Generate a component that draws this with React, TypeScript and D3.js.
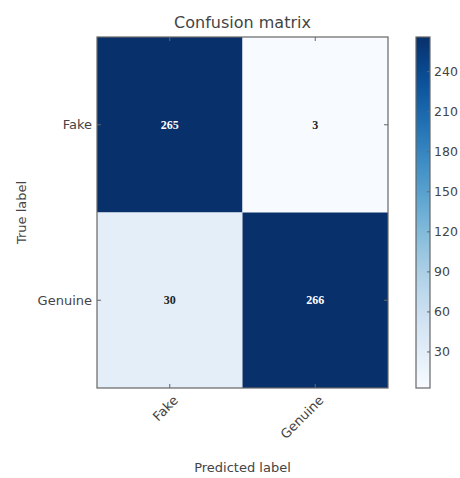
import React from "react";
import * as d3 from "d3";

const classes = ["Fake", "Genuine"];
const matrix = [
  [265, 3],
  [30, 266],
];
const cbTicks = [30, 60, 90, 120, 150, 180, 210, 240];
const title = "Confusion matrix";
const xLabel = "Predicted label";
const yLabel = "True label";

const W = 460;
const H = 478;
const plot = { left: 97, top: 37, right: 388, bottom: 388 };
const cb = { left: 416, right: 430, top: 37, bottom: 388 };
const font = "'DejaVu Sans', sans-serif";
const textColor = "#444";
const frameColor = "#666";

export default function App() {
  const flat = matrix.flat();
  const vmin = d3.min(flat) as number;
  const vmax = d3.max(flat) as number;
  const color = d3.scaleSequential(d3.interpolateBlues).domain([vmin, vmax]);
  const x = d3.scaleBand<string>().domain(classes).range([plot.left, plot.right]);
  const y = d3.scaleBand<string>().domain(classes).range([plot.top, plot.bottom]);
  const cbScale = d3.scaleLinear().domain([vmin, vmax]).range([cb.bottom, cb.top]);
  const thresh = (vmin + vmax) / 2;
  const gradStops = d3.range(0, 1.0001, 0.05);

  const cells: React.ReactNode[] = [];
  matrix.forEach((row, i) => {
    row.forEach((v, j) => {
      const cx = x(classes[j])!;
      const cy = y(classes[i])!;
      cells.push(
        <g key={`${i}-${j}`}>
          <rect x={cx} y={cy} width={x.bandwidth()} height={y.bandwidth()} fill={color(v)} />
          <text
            x={cx + x.bandwidth() / 2}
            y={cy + y.bandwidth() / 2}
            textAnchor="middle"
            dominantBaseline="central"
            fontFamily="'Liberation Serif', serif"
            fontWeight="bold"
            fontSize={12}
            fill={v > thresh ? "#ffffff" : "#222"}
          >
            {v}
          </text>
        </g>
      );
    });
  });

  const tl = 4;
  return (
    <svg width={W} height={H} style={{ position: "absolute", left: 0, top: 0, background: "#fff" }}>
      <rect x={0} y={0} width={W} height={H} fill="#fff" />
      <text x={(plot.left + plot.right) / 2} y={28} textAnchor="middle" fontFamily={font} fontSize={16} fill={textColor}>
        {title}
      </text>
      {cells}
      {classes.map((c) => {
        const cx = x(c)! + x.bandwidth() / 2;
        const cy = y(c)! + y.bandwidth() / 2;
        return (
          <g key={`t-${c}`} stroke={frameColor} strokeWidth={1}>
            <line x1={cx} x2={cx} y1={plot.bottom} y2={plot.bottom - tl} />
            <line x1={cx} x2={cx} y1={plot.top} y2={plot.top + tl} />
            <line x1={plot.left} x2={plot.left + tl} y1={cy} y2={cy} />
            <line x1={plot.right} x2={plot.right - tl} y1={cy} y2={cy} />
          </g>
        );
      })}
      <rect
        x={plot.left}
        y={plot.top}
        width={plot.right - plot.left}
        height={plot.bottom - plot.top}
        fill="none"
        stroke={frameColor}
        strokeWidth={1.2}
      />
      {classes.map((c) => (
        <text
          key={`yl-${c}`}
          x={plot.left - 5}
          y={y(c)! + y.bandwidth() / 2}
          textAnchor="end"
          dominantBaseline="central"
          fontFamily={font}
          fontSize={13}
          fill={textColor}
        >
          {c}
        </text>
      ))}
      {classes.map((c) => {
        const cx = x(c)! + x.bandwidth() / 2;
        return (
          <text
            key={`xl-${c}`}
            transform={`translate(${cx + 6},${plot.bottom + 10}) rotate(-45)`}
            textAnchor="end"
            dominantBaseline="central"
            fontFamily={font}
            fontSize={13}
            fill={textColor}
          >
            {c}
          </text>
        );
      })}
      <text
        x={(plot.left + plot.right) / 2}
        y={472}
        textAnchor="middle"
        fontFamily={font}
        fontSize={13}
        fill={textColor}
      >
        {xLabel}
      </text>
      <text
        transform={`translate(26,${(plot.top + plot.bottom) / 2}) rotate(-90)`}
        textAnchor="middle"
        fontFamily={font}
        fontSize={13}
        fill={textColor}
      >
        {yLabel}
      </text>
      <defs>
        <linearGradient id="cbgrad" x1="0" y1="1" x2="0" y2="0">
          {gradStops.map((t) => (
            <stop key={t} offset={t} stopColor={d3.interpolateBlues(t)} />
          ))}
        </linearGradient>
      </defs>
      <rect x={cb.left} y={cb.top} width={cb.right - cb.left} height={cb.bottom - cb.top} fill="url(#cbgrad)" />
      <rect
        x={cb.left}
        y={cb.top}
        width={cb.right - cb.left}
        height={cb.bottom - cb.top}
        fill="none"
        stroke={frameColor}
        strokeWidth={1.2}
      />
      {cbTicks.map((t) => (
        <g key={`cb-${t}`}>
          <line x1={cb.right} x2={cb.right - 3} y1={cbScale(t)} y2={cbScale(t)} stroke={frameColor} />
          <text
            x={cb.right + 4}
            y={cbScale(t)}
            dominantBaseline="central"
            fontFamily={font}
            fontSize={12.5}
            fill={textColor}
          >
            {t}
          </text>
        </g>
      ))}
    </svg>
  );
}
